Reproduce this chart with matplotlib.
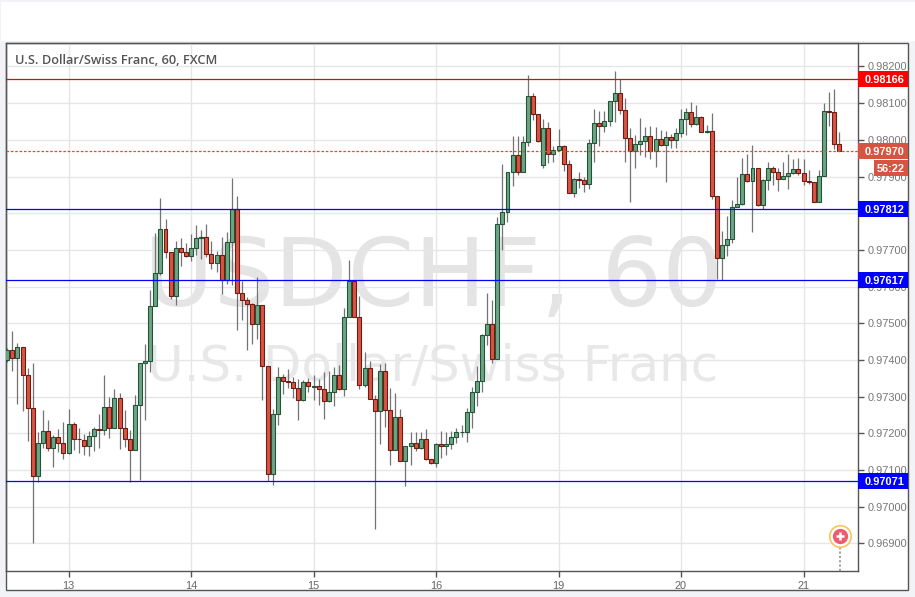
import matplotlib
matplotlib.use("Agg")
import matplotlib.pyplot as plt
from matplotlib.patches import Rectangle
import numpy as np

# prices in 1/100000 of a franc
opens = [97399, 97426, 97405, 97436, 97358, 97268, 97083, 97173, 97207, 97159, 97191, 97173,
         97146, 97225, 97186, 97183, 97165, 97194, 97211, 97208, 97271, 97214, 97296, 97214,
         97184, 97154, 97277, 97391, 97396, 97546, 97636, 97756, 97694, 97574, 97706, 97694,
         97683, 97705, 97732, 97735, 97688, 97664, 97685, 97617, 97723, 97811, 97582, 97563,
         97552, 97497, 97549, 97383, 97088, 97252, 97353, 97342, 97339, 97323, 97290, 97339,
         97327, 97328, 97320, 97287, 97312, 97358, 97320, 97516, 97614, 97516, 97331, 97377,
         97295, 97260, 97369, 97263, 97156, 97246, 97126, 97167, 97175, 97159, 97184, 97129,
         97118, 97170, 97167, 97170, 97189, 97203, 97205, 97257, 97312, 97342, 97467, 97497,
         97404, 97770, 97803, 97912, 97958, 97912, 97993, 98119, 98070, 97931, 98032, 97961,
         97973, 97983, 97933, 97854, 97893, 97890, 97879, 97991, 98045, 98037, 98051, 98105,
         98127, 98081, 98004, 97969, 97988, 97996, 98010, 97969, 98003, 97986, 98007, 97999,
         98018, 98056, 98076, 98043, 98062, 98021, 98024, 97846, 97677, 97713, 97729, 97816,
         97825, 97906, 97887, 97923, 97822, 97890, 97923, 97912, 97893, 97901, 97909, 97920,
         97909, 97887, 97885, 97830, 97901, 98078, 98076, 97988]
closes = [97426, 97405, 97436, 97358, 97268, 97083, 97173, 97207, 97159, 97191, 97173, 97146,
          97225, 97186, 97184, 97165, 97194, 97211, 97208, 97271, 97214, 97296, 97214, 97184,
          97154, 97277, 97391, 97396, 97546, 97636, 97756, 97694, 97574, 97706, 97694, 97683,
          97705, 97732, 97735, 97688, 97664, 97686, 97617, 97723, 97811, 97582, 97563, 97552,
          97497, 97549, 97383, 97088, 97252, 97353, 97342, 97339, 97323, 97290, 97339, 97328,
          97328, 97320, 97287, 97312, 97358, 97320, 97516, 97614, 97516, 97331, 97377, 97295,
          97260, 97369, 97263, 97156, 97246, 97126, 97167, 97175, 97159, 97184, 97129, 97118,
          97170, 97167, 97170, 97189, 97203, 97205, 97257, 97312, 97342, 97467, 97497, 97404,
          97770, 97803, 97912, 97958, 97912, 97993, 98119, 98070, 97996, 98032, 97961, 97973,
          97983, 97933, 97854, 97893, 97890, 97879, 97991, 98045, 98037, 98051, 98105, 98127,
          98081, 98004, 97969, 97988, 97996, 98010, 97969, 98003, 97986, 98007, 97999, 98018,
          98056, 98076, 98043, 98062, 98021, 98024, 97846, 97677, 97713, 97729, 97816, 97825,
          97906, 97887, 97923, 97822, 97890, 97923, 97912, 97893, 97901, 97909, 97920, 97909,
          97887, 97885, 97830, 97901, 98078, 98076, 97988, 97970]
highs = [97432, 97479, 97446, 97436, 97377, 97392, 97205, 97264, 97237, 97196, 97211, 97230,
         97267, 97232, 97214, 97198, 97207, 97217, 97253, 97359, 97298, 97320, 97309, 97264,
         97209, 97305, 97391, 97444, 97591, 97746, 97841, 97785, 97694, 97725, 97732, 97718,
         97744, 97768, 97755, 97771, 97725, 97698, 97736, 97750, 97895, 97847, 97616, 97573,
         97555, 97625, 97549, 97383, 97266, 97382, 97363, 97375, 97354, 97347, 97345, 97350,
         97359, 97347, 97367, 97370, 97382, 97386, 97543, 97673, 97614, 97574, 97422, 97397,
         97304, 97389, 97393, 97323, 97309, 97266, 97167, 97203, 97204, 97203, 97212, 97129,
         97175, 97206, 97204, 97206, 97214, 97223, 97268, 97327, 97384, 97470, 97582, 97563,
         97789, 97934, 97912, 98011, 98011, 98011, 98177, 98128, 98070, 98056, 98048, 97983,
         98030, 97986, 97945, 97895, 97913, 97900, 98002, 98083, 98079, 98079, 98105, 98188,
         98165, 98113, 98032, 98013, 98059, 98036, 98038, 98036, 98027, 98023, 98016, 98032,
         98084, 98086, 98103, 98096, 98065, 98041, 98073, 97846, 97751, 97793, 97836, 97900,
         97950, 97961, 97986, 97923, 97894, 97939, 97929, 97923, 97939, 97961, 97947, 97950,
         97947, 97918, 97885, 97918, 98100, 98130, 98138, 98021]
lows = [97395, 97371, 97281, 97262, 97180, 96900, 97068, 97159, 97153, 97109, 97150, 97129,
        97144, 97155, 97146, 97141, 97138, 97153, 97161, 97196, 97188, 97214, 97158, 97164,
        97068, 97154, 97072, 97237, 97366, 97546, 97632, 97679, 97566, 97550, 97655, 97680,
        97670, 97686, 97676, 97680, 97649, 97641, 97580, 97607, 97604, 97482, 97509, 97427,
        97444, 97457, 97291, 97071, 97059, 97223, 97307, 97323, 97297, 97236, 97289, 97313,
        97291, 97277, 97239, 97286, 97274, 97318, 97302, 97516, 97516, 97322, 97327, 97294,
        96939, 97171, 97218, 97114, 97154, 97124, 97056, 97114, 97153, 97158, 97127, 97117,
        97109, 97134, 97141, 97158, 97173, 97191, 97177, 97215, 97275, 97312, 97442, 97391,
        97404, 97700, 97777, 97873, 97905, 97912, 97982, 98054, 97995, 97924, 97936, 97941,
        97973, 97915, 97854, 97845, 97870, 97859, 97866, 97941, 97983, 98021, 98039, 98050,
        98071, 97941, 97832, 97924, 97959, 97954, 97947, 97927, 97984, 97884, 97978, 97977,
        98009, 98014, 98036, 98041, 98021, 98018, 97838, 97621, 97618, 97684, 97718, 97816,
        97823, 97886, 97750, 97820, 97811, 97864, 97877, 97862, 97893, 97866, 97907, 97905,
        97877, 97879, 97830, 97830, 97901, 98038, 97975, 97970]

day_labels = ["13", "14", "15", "16", "19", "20", "21"]
day_candles = [12, 36, 60, 84, 108, 132, 156]
price_ticks = [0.969, 0.970, 0.971, 0.972, 0.973, 0.974, 0.975, 0.976, 0.977, 0.978, 0.979, 0.980, 0.981, 0.982]

blue_levels = [0.97812, 0.97617, 0.97071]
red_level = 0.98166
last_price = 0.97970
countdown = "56:22"

W, H = 915, 597
UP, UP_EDGE = "#6ba583", "#225437"
DOWN, DOWN_EDGE = "#d75442", "#6f1a12"
LABEL_SIZE = 7.9


def px(x, y, w, h):
    # pixel box (top-left origin) to figure fractions
    return [x / W, 1 - (y + h) / H, w / W, h / H]


plt.rcParams['font.family'] = ['Liberation Sans', 'DejaVu Sans']

fig = plt.figure(figsize=(W / 100, H / 100), dpi=100, facecolor="#f1f3f6")
fig.patches.append(Rectangle((1 / W, 1 - 41 / H), 914 / W, 39 / H, transform=fig.transFigure,
                             facecolor="white", edgecolor="none"))
fig.patches.append(Rectangle((6 / W, 1 - 590 / H), 902 / W, 547 / H, transform=fig.transFigure,
                             facecolor="white", edgecolor="#555555", linewidth=1))

ax = fig.add_axes(px(6, 43, 852, 528), facecolor="none")
ax.set_xlim(-0.25, 166.67)
ax.set_ylim(0.96825, 0.98264)
ax.set_axisbelow(True)

ax.grid(True, color="#e6e6e6", linewidth=0.95)
ax.set_xticks(day_candles, day_labels)
ax.set_yticks(price_ticks, ["%.5f" % p for p in price_ticks])
ax.yaxis.tick_right()
ax.tick_params(axis="both", colors="#555555", labelcolor="#777777", length=4, width=1, labelsize=LABEL_SIZE)
ax.tick_params(axis="y", pad=3)
ax.tick_params(axis="x", pad=3, labelcolor="#666666")
for s in ax.spines.values():
    s.set_color("#555555")
    s.set_linewidth(1)

# watermark
fig.text(433.5 / W, 1 - 280 / H, "USDCHF, 60", fontsize=68.7, color="#e4e4e4", ha="center", va="center",
         family="DejaVu Sans", zorder=1)
fig.text(433 / W, 1 - 367 / H, "U.S. Dollar/Swiss Franc", fontsize=36, color="#e8e8e8", ha="center",
         va="center", family="DejaVu Sans", zorder=1)
ax.set_zorder(2)

o = np.array(opens) / 1e5
c = np.array(closes) / 1e5
hi = np.array(highs) / 1e5
lo = np.array(lows) / 1e5
idx = np.arange(len(o))
up = c >= o

ax.vlines(idx, lo, hi, color="#737375", linewidth=0.9, zorder=2)
ax.bar(idx[up], (c - o)[up], bottom=o[up], width=0.78, color=UP, edgecolor=UP_EDGE, linewidth=0.78, zorder=3)
ax.bar(idx[~up], (c - o)[~up], bottom=o[~up], width=0.78, color=DOWN, edgecolor=DOWN_EDGE, linewidth=0.78, zorder=3)

for lvl in blue_levels:
    ax.axhline(lvl, color="#0000ff", linewidth=0.9, zorder=4)
ax.axhline(red_level, color="#f00000", linewidth=0.9, zorder=4)
ax.axhline(last_price, color="#ff3b1f", linewidth=0.9, linestyle=(0, (2, 1.5)), zorder=4)

# price boxes on the scale
ytrans = ax.get_yaxis_transform()
box_w = 50 / 852
box_h = 16 / 528 * (0.98264 - 0.96825)


def price_box(price, color):
    ax.add_patch(Rectangle((1, price - box_h / 2), box_w, box_h, transform=ytrans, facecolor=color,
                           edgecolor="none", clip_on=False, zorder=6))
    ax.text(1 + 27 / 852, price, "%.5f" % price, transform=ytrans, color="white", fontsize=LABEL_SIZE,
            fontweight="bold", ha="center", va="center_baseline", clip_on=False, zorder=7)


price_box(red_level, "#ff0000")
for lvl in blue_levels:
    price_box(lvl, "#0000ff")
price_box(last_price, DOWN)

cd_price = last_price - box_h * 1.06
ax.add_patch(Rectangle((1 + 16 / 852, cd_price - box_h / 2), 34 / 852, box_h, transform=ytrans,
                       facecolor=DOWN, edgecolor="none", clip_on=False, zorder=6))
ax.text(1 + 33 / 852, cd_price, countdown, transform=ytrans, color="white", fontsize=LABEL_SIZE, fontweight="bold",
        ha="center", va="center_baseline", clip_on=False, zorder=7)

# event marker
mark_x = idx[-1] + 0.05
mark_y = 0.96920
ax.vlines(mark_x, 0.96825, mark_y - 0.00022, color="#999999", linewidth=1.3, linestyle=(0, (1.2, 1.2)), zorder=5)
ax.plot([mark_x], [mark_y], "o", ms=15.5, mfc="white", mec="#f9c35c", mew=1.2, zorder=6)
ax.plot([mark_x], [mark_y], "o", ms=11, mfc="#ee5a6f", mec="none", zorder=7)
ax.plot([mark_x], [mark_y], "+", ms=6, mec="white", mew=1.8, zorder=8)

# title
ax.text(9 / 852, 1 - 17.5 / 528, "U.S. Dollar/Swiss Franc, 60, FXCM", transform=ax.transAxes, fontsize=9.15,
        family="Open Sans", fontweight="semibold", color="#555555", ha="left", va="center", zorder=8)

fig.savefig("out.png", dpi=100, facecolor=fig.get_facecolor())
